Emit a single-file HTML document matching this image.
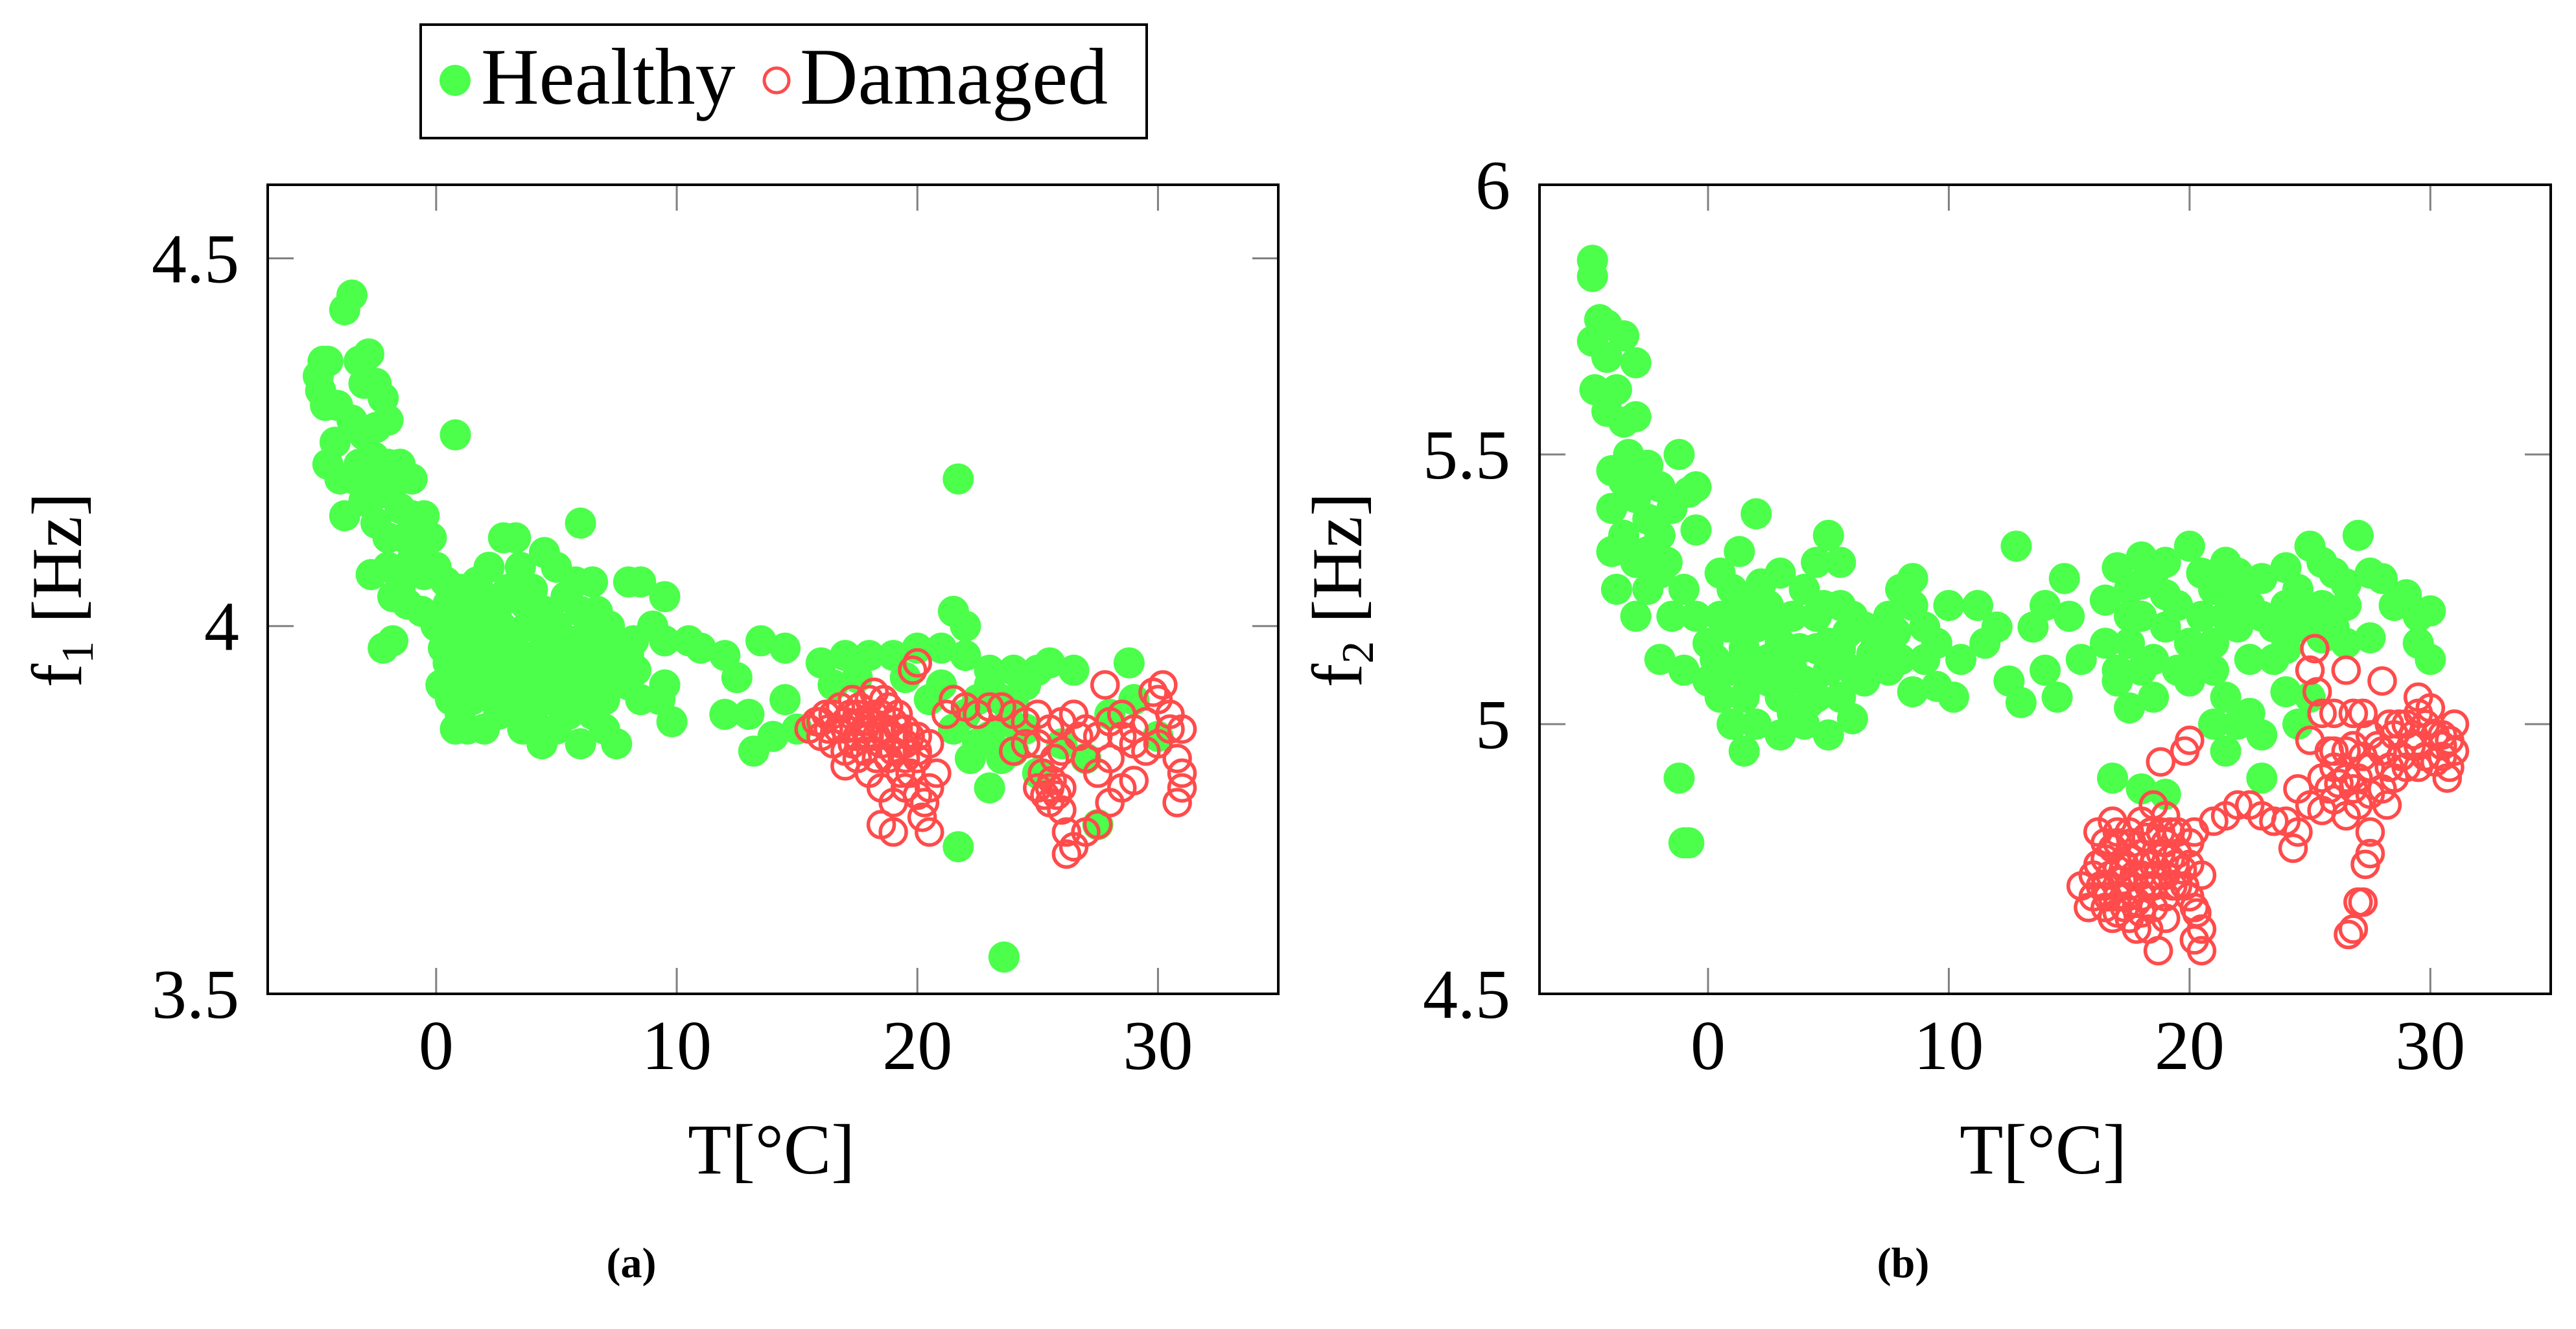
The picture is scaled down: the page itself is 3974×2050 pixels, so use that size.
<!DOCTYPE html>
<html><head><meta charset="utf-8"><style>
html,body{margin:0;padding:0;background:#fff;}
svg{display:block;font-family:"Liberation Serif",serif;}
</style></head><body>
<svg id="fig" width="3974" height="2050" viewBox="0 0 3974 2050" xmlns="http://www.w3.org/2000/svg">
<g>
<rect x="649" y="38" width="1120" height="175" fill="#fff" stroke="#000" stroke-width="4"/>
<circle cx="702" cy="124" r="24" fill="#4bff4b"/>
<text x="742" y="160" font-size="124">Healthy</text>
<circle cx="1198" cy="124" r="19" fill="none" stroke="#ff4b4b" stroke-width="5"/>
<text x="1234" y="160" font-size="124">Damaged</text>
</g>
<g id="pa"></g>
<g id="pb"></g>
<text x="974" y="1970" font-size="66" font-weight="bold" text-anchor="middle">(a)</text>
<text x="2936" y="1970" font-size="66" font-weight="bold" text-anchor="middle">(b)</text>
</svg>
<script>
const xTicks=[0,10,20,30];
const yTicksA=[3.5,4,4.5];
const yTickLabelsA=["3.5","4","4.5"];
const yTicksB=[4.5,5,5.5,6];
const yTickLabelsB=["4.5","5","5.5","6"];
const healthyA=[[-4.9,4.34],[-4.7,4.36],[-4.5,4.36],[-4.8,4.32],[-4.6,4.30],[-3.8,4.43],[-3.5,4.45],[-4.2,4.25],[-4.5,4.22],[-4,4.20],[-3.8,4.15],[-3.2,4.36],[-2.8,4.37],[-3,4.33],[-2.5,4.33],[-2.2,4.31],[-3.5,4.28],[-3,4.26],[-2.5,4.27],[-2,4.28],[-3.2,4.22],[-2.8,4.20],[-2.4,4.18],[-2,4.22],[-1.5,4.22],[-1,4.20],[-3,4.17],[-2.5,4.14],[-2,4.12],[-1.5,4.16],[-1,4.15],[-0.5,4.15],[-0.2,4.12],[-2.7,4.07],[-2,4.08],[-1.5,4.07],[-1,4.09],[-0.5,4.07],[0,4.08],[-1.8,4.04],[-1.2,4.03],[-0.6,4.02],[0.8,4.26],[-2.2,3.97],[-1.8,3.98],[-1.5,4.05],[0,4.0],[0.5,4.03],[1,4.05],[1.5,4.0],[2,3.98],[2.5,4.02],[3,4.05],[3.5,4.08],[4,4.05],[4.5,4.02],[5,4.0],[5.5,3.98],[6,4.02],[6.5,3.97],[7,3.95],[7.5,3.93],[8,3.96],[0.2,3.92],[0.6,3.9],[1,3.88],[1.5,3.9],[2,3.92],[2.5,3.95],[3,3.93],[3.5,3.9],[4,3.88],[4.5,3.85],[5,3.86],[5.5,3.88],[6,3.84],[6.5,3.88],[7,3.9],[7.5,3.84],[1.2,3.97],[2.2,4.08],[2.8,4.12],[3.3,4.12],[4.5,4.10],[5,4.08],[5.8,4.06],[6.5,4.06],[8,4.06],[8.5,4.06],[9.5,4.04],[6,4.14],[0.5,3.95],[1.8,3.95],[3.2,3.98],[4.2,3.96],[5.2,3.93],[6.2,3.92],[7.2,4.0],[8.2,3.98],[9,4.0],[9.5,3.98],[9.5,3.92],[9.8,3.87],[9.3,3.9],[8.5,3.9],[1.5,4.02],[2.6,3.88],[3.6,3.86],[4.4,3.84],[2,3.86],[0.8,3.86],[3.8,4.0],[4.8,3.95],[5.6,3.94],[6.8,3.93],[7.8,3.96],[1,4.0],[2,4.04],[3,3.98],[4,3.92],[5,3.9],[6,3.96],[7,3.86],[8,3.92],[0.4,4.06],[1.4,3.93],[2.4,3.9],[3.4,3.95],[4.6,3.98],[5.4,4.04],[0.3,3.97],[1.7,4.06],[2.7,4.0],[3.7,4.03],[4.3,4.0],[5.3,3.96],[6.3,3.99],[7.3,3.97],[8.3,3.94],[6.7,4.02],[5.7,3.9],[4.7,3.9],[3.3,3.88],[1.3,3.86],[2.3,3.96],[-0.7,4.11],[-1.3,4.12],[-2.6,4.23],[-3.4,4.2],[-4.1,4.3],[-1.9,4.18],[10.5,3.98],[11,3.97],[12,3.96],[12.5,3.93],[13.5,3.98],[14.5,3.97],[13,3.88],[12,3.88],[13.2,3.83],[14.5,3.9],[15,3.86],[14,3.85],[16,3.95],[17,3.96],[18,3.96],[19,3.96],[20,3.97],[21,3.97],[21.5,4.02],[22,4.0],[21.7,4.2],[22,3.96],[23,3.94],[24,3.94],[25,3.94],[25.5,3.95],[26.5,3.94],[28.8,3.95],[22,3.88],[23,3.85],[24,3.83],[23,3.78],[21.7,3.7],[23.6,3.55],[27.5,3.73],[27,3.82],[26,3.84],[24.5,3.86],[20.5,3.9],[22.5,3.9],[25,3.8],[28,3.88],[30,3.85],[29,3.9],[16.5,3.92],[17.5,3.93],[19.5,3.93],[21,3.92],[23.5,3.9],[24.5,3.92],[22.5,3.84],[23.5,3.82],[21.5,3.86],[23,3.92],[24,3.9],[22.2,3.82],[23.8,3.87]];
const damagedA=[[15.5,3.86],[16,3.87],[16.5,3.88],[17,3.87],[17.5,3.88],[18,3.9],[18.5,3.88],[19,3.87],[19.5,3.86],[20,3.85],[16.5,3.84],[17,3.83],[17.5,3.85],[18,3.85],[18.5,3.84],[19,3.83],[19.5,3.82],[20,3.82],[20.5,3.84],[17,3.81],[18,3.8],[18.5,3.78],[19,3.76],[19.5,3.78],[20,3.77],[20.3,3.76],[20.5,3.78],[18.5,3.73],[19,3.72],[20.5,3.72],[20.2,3.74],[19.8,3.94],[20,3.95],[18.2,3.91],[17.3,3.9],[19.3,3.8],[20.8,3.8],[21.2,3.88],[21.5,3.9],[22,3.89],[22.5,3.88],[23,3.89],[23.5,3.89],[24,3.88],[24.5,3.87],[25,3.88],[25.5,3.86],[26,3.87],[26.5,3.88],[27,3.86],[27.5,3.85],[28,3.87],[28.5,3.88],[29,3.86],[29.5,3.87],[30,3.9],[30.5,3.88],[31,3.86],[25,3.84],[26,3.83],[27,3.82],[28,3.82],[29,3.84],[30,3.84],[30.8,3.82],[31,3.8],[31,3.78],[30.8,3.76],[25,3.78],[25.5,3.76],[26,3.75],[26.2,3.72],[26.5,3.7],[26.2,3.69],[27,3.72],[27.5,3.73],[28,3.76],[28.5,3.78],[29,3.79],[24.5,3.84],[24,3.83],[27.8,3.92],[30.2,3.92],[29.8,3.91],[16,3.85],[17,3.86],[18,3.87],[19,3.85],[20,3.83],[17.5,3.82],[18.5,3.86],[19.5,3.84],[25.5,3.78],[26,3.78],[25.2,3.8],[16.2,3.88],[16.8,3.89],[17.8,3.86],[18.8,3.89],[19.2,3.88],[18.3,3.82],[19.7,3.8],[25.7,3.82],[26.7,3.85],[27.5,3.8],[28.5,3.85],[29.5,3.83],[30.5,3.86],[15.8,3.87],[16.3,3.86],[16.7,3.86],[17.2,3.88],[17.7,3.87],[18.2,3.88],[18.7,3.86],[19.2,3.86],[19.7,3.85],[17.3,3.84],[17.8,3.83],[18.3,3.85],[18.8,3.82],[19.3,3.84],[17.6,3.89],[18.6,3.9],[25.3,3.77],[25.8,3.77],[25.6,3.79]];
const healthyB=[[-4.8,5.86],[-4.8,5.83],[-4.8,5.71],[-4.5,5.75],[-4.2,5.74],[-3.5,5.72],[-4.2,5.68],[-3.8,5.62],[-3,5.67],[-4.7,5.62],[-4.2,5.58],[-3.5,5.56],[-3,5.57],[-4,5.47],[-3.5,5.45],[-3,5.42],[-2.5,5.48],[-2,5.44],[-1.2,5.5],[-1.5,5.4],[-0.8,5.43],[-0.5,5.44],[-0.5,5.36],[-4,5.32],[-3.5,5.35],[-3,5.3],[-2.5,5.32],[-2,5.28],[-3.8,5.25],[-3,5.2],[-2.5,5.25],[-2,5.12],[-1.5,5.2],[-1,5.1],[-1,5.25],[-0.5,5.2],[-1.2,4.9],[-0.8,4.78],[-1,4.78],[0,5.15],[0.5,5.2],[1,5.25],[1.5,5.22],[2,5.18],[2.5,5.22],[3,5.15],[3.5,5.2],[4,5.25],[4.5,5.2],[5,5.15],[5.5,5.22],[6,5.2],[6.5,5.18],[0,5.08],[0.5,5.05],[1,5.1],[1.5,5.05],[2,5.1],[2.5,5.08],[3,5.05],[3.5,5.1],[4,5.08],[4.5,5.05],[5,5.1],[5.5,5.05],[6,5.1],[1,5.0],[1.5,4.95],[2,5.0],[3,4.98],[4,5.0],[5,4.98],[6,5.01],[1.3,5.32],[2,5.39],[3,5.28],[5,5.35],[5.5,5.3],[4.5,5.3],[7,5.15],[7.5,5.2],[8,5.25],[8.5,5.22],[9,5.18],[9.5,5.15],[10,5.22],[10.2,5.05],[9.5,5.07],[8.5,5.06],[7.5,5.1],[8,5.12],[8.5,5.27],[10.5,5.12],[11.2,5.22],[12,5.18],[12.8,5.33],[11.5,5.15],[12.5,5.08],[13,5.04],[13.5,5.18],[14,5.22],[14.8,5.27],[15,5.2],[15.5,5.12],[14.5,5.05],[14,5.1],[16.5,5.23],[17,5.29],[17.5,5.25],[18,5.31],[18.5,5.28],[19,5.3],[20,5.33],[20.5,5.28],[21,5.25],[21.5,5.3],[22,5.28],[23,5.27],[24,5.29],[24.5,5.25],[25,5.33],[25.5,5.3],[26,5.28],[26.5,5.26],[27,5.35],[27.5,5.28],[28,5.27],[28.5,5.22],[29,5.24],[29.5,5.2],[30,5.21],[29.5,5.15],[30,5.12],[27.5,5.16],[16.5,5.15],[17,5.1],[17.5,5.15],[18,5.2],[18.5,5.12],[19,5.18],[19.5,5.1],[20,5.15],[20.5,5.2],[21,5.15],[21.5,5.2],[22,5.18],[22.5,5.12],[23,5.2],[23.5,5.18],[24,5.22],[24.5,5.18],[25,5.2],[25.5,5.22],[26,5.18],[26.5,5.15],[17.5,5.03],[17,5.08],[18.5,5.05],[20,5.08],[21.5,5.05],[21,5.0],[22,5.0],[22.5,5.02],[23,4.98],[23,4.9],[24,5.06],[21.5,4.95],[16.8,4.9],[18,4.88],[19,4.87],[24.5,5.0],[25,5.05],[-2.5,5.38],[-2,5.35],[0.5,5.28],[2.5,5.12],[3.5,5.02],[4.5,5.14],[5.5,5.14],[6.5,5.08],[1.5,5.14],[0.8,5.18],[18,5.1],[19.5,5.22],[22.5,5.22],[24,5.14],[0.3,5.12],[1.8,5.08],[2.8,5.2],[3.8,5.14],[4.8,5.22],[5.8,5.17],[6.8,5.13],[7.8,5.17],[9,5.12],[2.2,5.26],[3.2,5.1],[4.2,5.04],[-3.3,5.5],[-2.7,5.44],[-4,5.4],[-1.7,5.3],[17.5,5.2],[19,5.24],[20.5,5.12],[22,5.24],[23.5,5.12],[25.5,5.16],[26.5,5.22],[18,5.26],[21,5.1]];
const damagedB=[[15.5,4.7],[16,4.72],[16.5,4.75],[17,4.78],[17.5,4.8],[18,4.82],[18.5,4.85],[19,4.83],[19.5,4.8],[20,4.78],[16,4.68],[16.5,4.66],[17,4.68],[17.5,4.7],[18,4.72],[18.5,4.74],[19,4.72],[19.5,4.7],[20,4.68],[20.3,4.65],[20.5,4.62],[20.5,4.58],[20.2,4.6],[18.7,4.58],[17,4.65],[17.5,4.64],[18,4.65],[18.5,4.66],[19,4.64],[16.8,4.82],[16.2,4.8],[18.8,4.93],[19.8,4.95],[20,4.97],[20.2,4.8],[20.5,4.72],[19,4.78],[18,4.76],[17,4.73],[21,4.82],[21.5,4.83],[22,4.85],[22.5,4.85],[23,4.83],[23.5,4.82],[24,4.82],[24.5,4.8],[24.3,4.77],[24.5,4.88],[25,4.85],[25.5,4.9],[26,4.92],[26.5,4.95],[27,4.9],[27.5,4.92],[28,4.95],[28.5,4.98],[29,5.0],[29.5,5.02],[30,5.03],[30.5,4.98],[31,4.95],[31,5.0],[30.8,4.92],[29.8,4.94],[29,4.92],[28,4.88],[27,4.85],[26,4.86],[25.5,4.84],[26.5,4.83],[27.5,4.87],[28.5,4.9],[29.5,4.96],[30.5,4.94],[25.2,5.14],[25,5.1],[25.3,5.06],[25.5,5.02],[26,5.02],[26.5,5.1],[26.8,5.02],[27.2,5.02],[28,5.08],[25,4.97],[25.8,4.95],[26.8,4.96],[27.5,4.8],[27.5,4.76],[27.3,4.74],[27,4.67],[27.2,4.67],[26.8,4.62],[26.6,4.61],[28.2,4.85],[28.7,5.0],[29.5,5.05],[30.2,4.98],[16.5,4.7],[17.5,4.75],[18.5,4.7],[19,4.68],[19.5,4.76],[18,4.68],[16.2,4.74],[16.8,4.77],[17.2,4.71],[17.8,4.67],[18.2,4.79],[18.8,4.8],[19.2,4.75],[19.7,4.73],[18.3,4.62],[17.3,4.66],[15.8,4.66],[26.2,4.89],[27.2,4.94],[28.3,4.92],[29.2,4.96],[30.2,4.93],[30.8,4.97],[29.8,5.0],[25.8,4.88],[26.8,4.88],[16.3,4.7],[16.7,4.72],[17.3,4.74],[17.7,4.72],[18.3,4.7],[18.7,4.72],[19.3,4.7],[19.8,4.7],[16.6,4.68],[17.4,4.68],[18.2,4.74],[18.8,4.76],[19.4,4.74],[17.6,4.78],[18.4,4.8],[19.2,4.8],[17,4.8],[16.5,4.78],[20,4.74],[20.2,4.66],[17.8,4.62],[16.8,4.64],[27.8,4.96],[28.8,4.94],[29.5,4.92],[30.5,4.96],[28.3,5.0],[29.3,4.98],[30.7,4.9],[27.5,4.98],[26.5,4.9],[26,4.95]];

const NS="http://www.w3.org/2000/svg";
function mk(tag,attrs,parent){const e=document.createElementNS(NS,tag);for(const k in attrs)e.setAttribute(k,attrs[k]);parent.appendChild(e);return e;}

function panel(g,L,R,T,B,ymin,ymax,yTicks,yLabels,healthy,damaged,sub,labX,tickRight,yLabX){
  const xmin=-7,xmax=35;
  const sx=v=>L+(v-xmin)/(xmax-xmin)*(R-L);
  const sy=v=>B-(v-ymin)/(ymax-ymin)*(B-T);
  for(const p of healthy){
    const c=mk('circle',{cx:sx(p[0]),cy:sy(p[1]),r:24,fill:'#4bff4b'},g);
    
    
  }
  for(const p of damaged){
    const c=mk('circle',{cx:sx(p[0]),cy:sy(p[1]),r:20,fill:'none',stroke:'#ff4b4b','stroke-width':5.5},g);
    
    
  }
  for(const t of xTicks){
    const x=sx(t);
    const a=mk('line',{x1:x,x2:x,y1:T,y2:T+40,stroke:'#808080','stroke-width':3},g);
    
    
    const b=mk('line',{x1:x,x2:x,y1:B,y2:B-40,stroke:'#808080','stroke-width':3},g);
    
    
    const tx=mk('text',{x:x,y:1649,'font-size':108,'text-anchor':'middle'},g);
    tx.textContent=String(t);
    
    
  }
  yTicks.forEach((t,i)=>{
    const y=sy(t);
    const a=mk('line',{x1:L,x2:L+40,y1:y,y2:y,stroke:'#808080','stroke-width':3},g);
    
    
    const b=mk('line',{x1:R,x2:R-40,y1:y,y2:y,stroke:'#808080','stroke-width':3},g);
    
    
    const tx=mk('text',{x:tickRight,y:y+37,'font-size':108,'text-anchor':'end'},g);
    tx.textContent=yLabels[i];
    
    
  });
  const fr=mk('rect',{x:L,y:T,width:R-L,height:B-T,fill:'none',stroke:'#000','stroke-width':4},g);
  
  
  const xl=mk('text',{x:labX,y:1810,'font-size':110,'text-anchor':'middle'},g);
  xl.textContent='T[°C]';
  
  
  const yl=mk('text',{x:0,y:0,'font-size':110,'text-anchor':'middle',transform:`translate(${yLabX},910) rotate(-90)`},g);
  
  
  const t1=mk('tspan',{},yl);t1.textContent='f';
  const t2=mk('tspan',{'font-size':70,dy:18},yl);t2.textContent=sub;
  const t3=mk('tspan',{dy:-18},yl);t3.textContent=' [Hz]';
}
panel(document.getElementById('pa'),413,1972,285,1533,3.5,4.6,yTicksA,yTickLabelsA,healthyA,damagedA,'1',1190,369,125);
panel(document.getElementById('pb'),2375,3935,285,1533,4.5,6.0,yTicksB,yTickLabelsB,healthyB,damagedB,'2',3152,2330,2100);
</script>
</body></html>
